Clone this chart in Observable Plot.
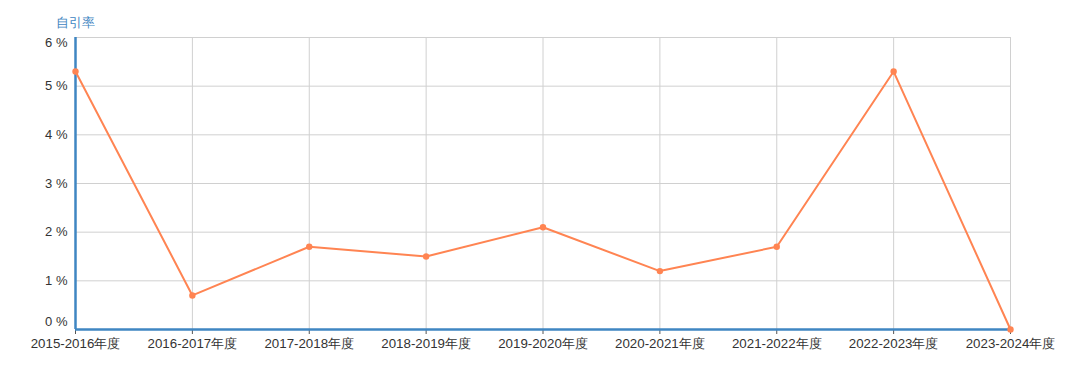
<!DOCTYPE html>
<html><head><meta charset="utf-8">
<script src="https://cdn.jsdelivr.net/npm/d3@7"></script>
<script src="https://cdn.jsdelivr.net/npm/@observablehq/plot@0.6"></script>
<style>body{margin:0;background:#fff;font-family:"Liberation Sans",Arial,sans-serif;}</style>
</head><body><div id="chart"></div>
<script>
const years = ["2015-2016年度","2016-2017年度","2017-2018年度","2018-2019年度","2019-2020年度","2020-2021年度","2021-2022年度","2022-2023年度","2023-2024年度"];
const rates = [5.3, 0.7, 1.7, 1.5, 2.1, 1.2, 1.7, 5.3, 0.0];
const yTicks = [0,1,2,3,4,5,6];
const yLabel = "自引率";
const data = years.map((y,i)=>({year:y, rate:rates[i]}));
const blue = "#3f86c2", orange = "#ff8452", grid = "#d0d0d0", txt = "#333";
const fmt = d => d + " %";
const chart = Plot.plot({
  width:1069, height:377,
  marginLeft:75, marginRight:59, marginTop:37, marginBottom:48,
  style:{fontFamily:"'Liberation Sans', Arial, sans-serif", fontSize:"13px", color:txt, background:"#fff"},
  x:{type:"point", domain:years, padding:0, round:false},
  y:{domain:[0,6]},
  marks:[
    Plot.gridX(years,{stroke:grid, strokeOpacity:1, strokeWidth:1}),
    Plot.gridY(yTicks,{stroke:grid, strokeOpacity:1, strokeWidth:1}),
    Plot.axisY(yTicks.filter(d=>d>0&&d<6),{tickSize:0, tickPadding:8, tickFormat:fmt, label:null, fill:txt, fontSize:13}),
    Plot.axisY([6],{tickSize:0, tickPadding:8, tickFormat:fmt, label:null, dy:5, fill:txt, fontSize:13}),
    Plot.axisY([0],{tickSize:0, tickPadding:8, tickFormat:fmt, dy:-8, fill:txt, fontSize:13, label:null}),
    Plot.text([yLabel],{text:d=>d, frameAnchor:"top-left", textAnchor:"start", dx:-20, dy:-19, fill:blue, fontSize:12.5}),
    Plot.axisX({tickSize:5, tickPadding:4, stroke:"#555", fill:txt, fontSize:13.3, label:null}),
    Plot.ruleX([years[0]],{stroke:blue, strokeWidth:2.5}),
    Plot.ruleY([0],{stroke:blue, strokeWidth:2.5}),
    Plot.line(data,{x:"year", y:"rate", stroke:orange, strokeWidth:2}),
    Plot.dot(data,{x:"year", y:"rate", fill:orange, r:3.2})
  ]
});
document.getElementById("chart").append(chart);
</script></body></html>
